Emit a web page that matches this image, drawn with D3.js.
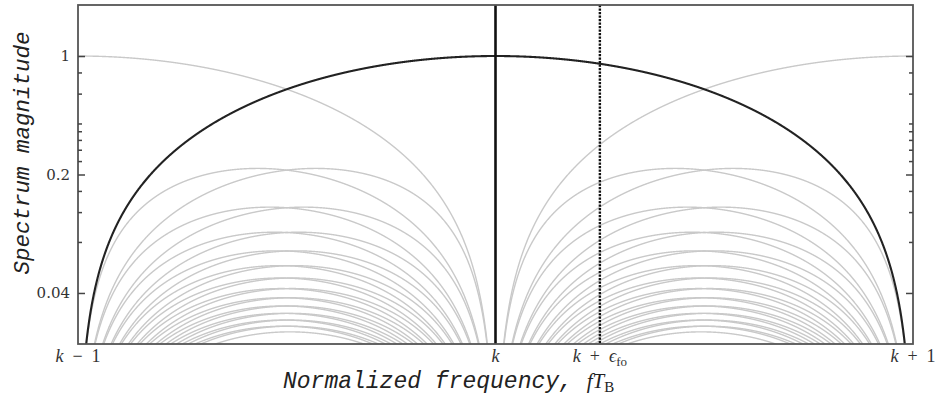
<!DOCTYPE html>
<html>
<head>
<meta charset="utf-8">
<script src="https://cdn.jsdelivr.net/npm/d3@7"></script>
<style>
  html, body { margin: 0; padding: 0; background: #fff; }
  svg { display: block; }
</style>
</head>
<body>
<svg id="chart" width="944" height="398"></svg>
<script>
// Harmonic offsets (relative to k) of the sinc-shaped spectral lines drawn in grey
const harmonicOffsets = [-13, -12, -11, -10, -9, -8, -7, -6, -5, -4, -3, -2, -1,
                         1, 2, 3, 4, 5, 6, 7, 8, 9, 10, 11, 12, 13];
// Offset of the highlighted (black) spectral line
const mainOffset = [0];
// Frequency offset of the dotted marker line
const freqOffset = [0.25];

// X-axis tick positions (relative to k) and their labels
const xTickValues = [-1, 0, 0.25, 1];
const xTickLabels = ["k − 1", "k", "k + ϵfo", "k + 1"];

// Y-axis major / minor ticks
const yMajorTicks = [1, 0.2, 0.04];
const yMajorLabels = ["1", "0.2", "0.04"];
const yMinorTicks = [0.8, 0.6, 0.4, 0.36, 0.32, 0.28, 0.24, 0.16, 0.12, 0.08];

const xDomain = [-1, 1];
const yDomain = [0.02, 2];

const W = 944, H = 398;
const margin = { left: 78, right: 31, top: 5, bottom: 54 };
const iw = W - margin.left - margin.right;
const ih = H - margin.top - margin.bottom;

const svg = d3.select("#chart");
const g = svg.append("g").attr("transform", `translate(${margin.left},${margin.top})`);

const x = d3.scaleLinear().domain(xDomain).range([0, iw]);
const y = d3.scaleLog().domain(yDomain).range([ih, 0]);

g.append("defs").append("clipPath").attr("id", "plotClip")
  .append("rect").attr("x", 0).attr("y", 0).attr("width", iw).attr("height", ih);

// |sinc| magnitude of the line centred on offset m
const sincMag = (f, m) => {
  const u = f - m;
  if (Math.abs(u) < 1e-9) return 1;
  return Math.abs(Math.sin(Math.PI * u) / (Math.PI * u));
};

const samples = d3.range(xDomain[0], xDomain[1] + 1e-9, 0.0005);
const floor = 1e-4;
const line = d3.line()
  .x(d => x(d[0]))
  .y(d => y(Math.max(floor, d[1])));

const plot = g.append("g").attr("clip-path", "url(#plotClip)");

plot.selectAll("path.side")
  .data(harmonicOffsets)
  .join("path")
  .attr("class", "side")
  .attr("d", m => line(samples.map(f => [f, sincMag(f, m)])))
  .attr("fill", "none")
  .attr("stroke", "#c9c9c9")
  .attr("stroke-width", 1.4);

plot.selectAll("path.main")
  .data(mainOffset)
  .join("path")
  .attr("class", "main")
  .attr("d", m => line(samples.map(f => [f, sincMag(f, m)])))
  .attr("fill", "none")
  .attr("stroke", "#222")
  .attr("stroke-width", 2.1);

// Vertical line at k
g.selectAll("line.kline")
  .data(mainOffset)
  .join("line")
  .attr("class", "kline")
  .attr("x1", d => x(d)).attr("x2", d => x(d))
  .attr("y1", 0).attr("y2", ih)
  .attr("stroke", "#111")
  .attr("stroke-width", 2.6);

// Dotted line at k + eps
g.selectAll("line.epsline")
  .data(freqOffset)
  .join("line")
  .attr("class", "epsline")
  .attr("x1", d => x(d)).attr("x2", d => x(d))
  .attr("y1", 0).attr("y2", ih)
  .attr("stroke", "#111")
  .attr("stroke-width", 2.4)
  .attr("stroke-dasharray", "2.2,1.3");

// Frame
g.append("rect")
  .attr("x", 0).attr("y", 0).attr("width", iw).attr("height", ih)
  .attr("fill", "none")
  .attr("stroke", "#555")
  .attr("stroke-width", 1.8);

// Y axes (ticks inward on both sides)
const leftMajor = d3.axisRight(y).tickValues(yMajorTicks).tickSize(7).tickFormat("");
const leftMinor = d3.axisRight(y).tickValues(yMinorTicks).tickSize(4).tickFormat("");
const rightMajor = d3.axisLeft(y).tickValues(yMajorTicks).tickSize(7).tickFormat("");
const rightMinor = d3.axisLeft(y).tickValues(yMinorTicks).tickSize(4).tickFormat("");

[[leftMajor, 0], [leftMinor, 0], [rightMajor, iw], [rightMinor, iw]].forEach(([ax, tx]) => {
  const a = g.append("g").attr("transform", `translate(${tx},0)`).call(ax);
  a.select(".domain").remove();
  a.selectAll("line").attr("stroke", "#444").attr("stroke-width", 1.5);
});

// Y tick labels
g.selectAll("text.ylab")
  .data(yMajorTicks)
  .join("text")
  .attr("class", "ylab")
  .attr("x", -8)
  .attr("y", d => y(d))
  .attr("dy", "0.35em")
  .attr("text-anchor", "end")
  .attr("font-family", "'DejaVu Serif', 'Liberation Serif', serif")
  .attr("font-size", 15)
  .attr("fill", "#333")
  .text((d, i) => yMajorLabels[i]);

// X tick labels (math style)
const serif = "'Liberation Serif', 'DejaVu Serif', serif";
const xl = g.selectAll("text.xlab")
  .data(xTickValues)
  .join("text")
  .attr("class", "xlab")
  .attr("x", d => x(d))
  .attr("y", ih + 18)
  .attr("text-anchor", "middle")
  .attr("font-family", serif)
  .attr("font-size", 18)
  .attr("fill", "#333");

xl.each(function (d, i) {
  const t = d3.select(this);
  const lab = xTickLabels[i];
  t.append("tspan").attr("font-style", "italic").text("k");
  if (lab.includes("−")) {
    t.append("tspan").text("\u2002−\u2002" + "1");
  } else if (lab.includes("ϵ")) {
    t.append("tspan").text("\u2002+\u2002");
    t.append("tspan").attr("font-style", "italic").text("ϵ");
    t.append("tspan").attr("font-size", 13).attr("dy", 4).text("fo");
  } else if (lab.includes("+ 1")) {
    t.append("tspan").text("\u2002+\u2002" + "1");
  }
});

// Axis titles
const mono = "'Liberation Mono', 'DejaVu Sans Mono', monospace";
const xt = svg.append("text")
  .attr("x", 283)
  .attr("y", 388)
  .attr("text-anchor", "start")
  .attr("fill", "#222");
xt.append("tspan")
  .attr("font-family", mono).attr("font-style", "italic").attr("font-size", 23)
  .text("Normalized frequency, ");
xt.append("tspan")
  .attr("font-family", serif).attr("font-style", "italic").attr("font-size", 21)
  .text("fT");
xt.append("tspan")
  .attr("font-family", serif).attr("font-size", 15).attr("dy", 4)
  .text("B");

svg.append("text")
  .attr("transform", `translate(29,${margin.top + 148}) rotate(-90)`)
  .attr("text-anchor", "middle")
  .attr("font-family", mono)
  .attr("font-style", "italic")
  .attr("font-size", 22.5)
  .attr("fill", "#222")
  .text("Spectrum magnitude");
</script>
</body>
</html>
